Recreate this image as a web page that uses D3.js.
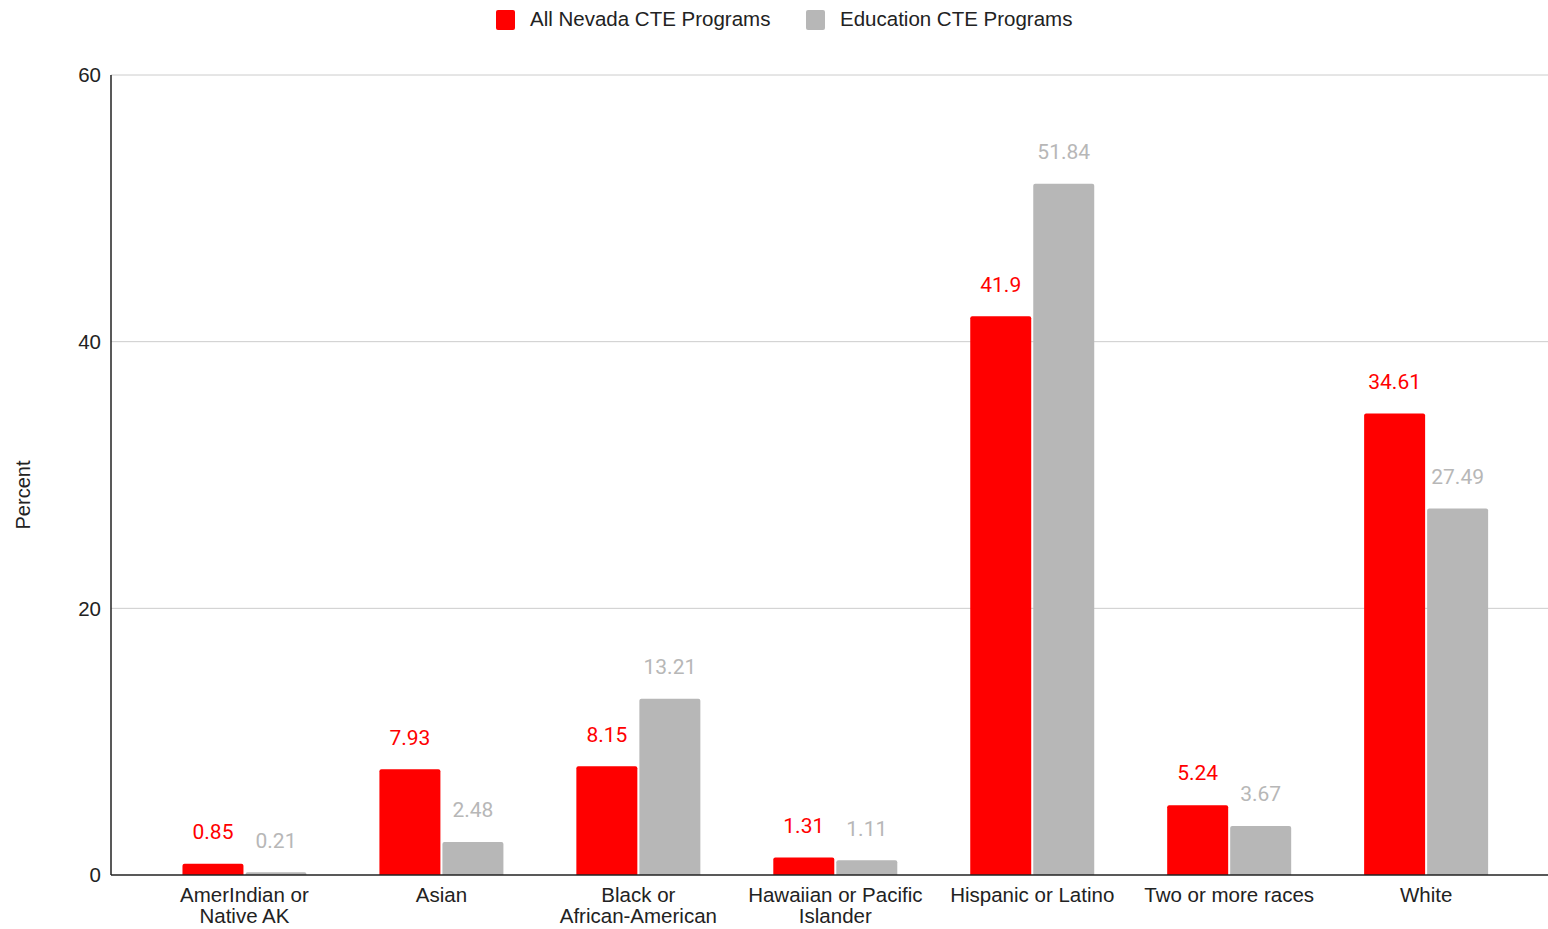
<!DOCTYPE html>
<html><head><meta charset="utf-8">
<script src="https://cdn.jsdelivr.net/npm/d3@7"></script>
<style>body{margin:0;background:#fff}svg{display:block}</style>
</head><body><svg id="c" width="1548" height="929"></svg>
<script>
const categories = [["AmerIndian or","Native AK"],["Asian"],["Black or","African-American"],["Hawaiian or Pacific","Islander"],["Hispanic or Latino"],["Two or more races"],["White"]];
const seriesNames = ["All Nevada CTE Programs","Education CTE Programs"];
const allNevada = [0.85,7.93,8.15,1.31,41.9,5.24,34.61];
const education = [0.21,2.48,13.21,1.11,51.84,3.67,27.49];
const yTicks = [0,20,40,60];
const colors = ["#ff0000","#b7b7b7"];
const labelColors = ["#ff0000","#b7b7b7"];

const svg = d3.select("#c");
const axisFont = "'Liberation Sans', Arial, sans-serif";
const valFont = "Roboto, sans-serif";
const keys = categories.map((c,i)=>i);
const y = d3.scaleLinear().domain([0,60]).range([875,75]);
const x0 = d3.scaleBand().domain(keys).range([146,1524.6]);
const x1 = d3.scaleBand().domain([0,1]).range([x0.step()/2-62, x0.step()/2+62]).paddingInner(0.032);

// gridlines
svg.append("g").selectAll("line").data(yTicks.filter(d=>d>0)).join("line")
  .attr("x1",111).attr("x2",1548).attr("y1",d=>y(d)).attr("y2",d=>y(d))
  .attr("stroke","#cccccc").attr("stroke-width",1);

// y tick labels
svg.append("g").selectAll("text").data(yTicks).join("text")
  .attr("x",101).attr("y",d=>y(d)).attr("dy","0.35em").attr("text-anchor","end")
  .attr("font-family",axisFont).attr("font-size",20.5).attr("fill","#222").text(d=>d);

// bars
const data = [allNevada, education];
const g = svg.append("g");
keys.forEach(i=>{
  data.forEach((s,j)=>{
    const bx = x0(i)+x1(j), bw = x1.bandwidth(), by = y(s[i]), bh = y(0)-y(s[i]);
    const r = Math.min(2, bh);
    g.append("path").attr("fill",colors[j])
      .attr("d",`M${bx},${y(0)}V${by+r}Q${bx},${by} ${bx+r},${by}H${bx+bw-r}Q${bx+bw},${by} ${bx+bw},${by+r}V${y(0)}Z`);
    g.append("text").attr("x",bx+bw/2).attr("y",by-32).attr("dy","0.35em").attr("text-anchor","middle")
      .attr("font-family",valFont).attr("font-size",21).attr("fill",labelColors[j]).text(s[i]);
  });
});

// axes lines
svg.append("line").attr("x1",111).attr("x2",111).attr("y1",75).attr("y2",875).attr("stroke","#222").attr("stroke-width",1.5);
svg.append("line").attr("x1",111).attr("x2",1548).attr("y1",875).attr("y2",875).attr("stroke","#222").attr("stroke-width",1.5);

// x labels
const xl = svg.append("g");
keys.forEach(i=>{
  const t = xl.append("text").attr("x",x0(i)+x0.step()/2).attr("y",902).attr("text-anchor","middle")
    .attr("font-family",axisFont).attr("font-size",20.5).attr("fill","#222");
  categories[i].forEach((line,k)=>{
    t.append("tspan").attr("x",x0(i)+x0.step()/2).attr("dy",k===0?0:21).text(line);
  });
});

// y title
svg.append("text").attr("transform","translate(30,495) rotate(-90)").attr("text-anchor","middle")
  .attr("font-family",axisFont).attr("font-size",20).attr("fill","#222").text("Percent");

// legend
const legX = [496, 806];
seriesNames.forEach((n,j)=>{
  svg.append("rect").attr("x",legX[j]).attr("y",10).attr("width",19).attr("height",20).attr("rx",2).attr("fill",colors[j]);
  svg.append("text").attr("x",legX[j]+34).attr("y",19).attr("dy","0.35em")
    .attr("font-family",axisFont).attr("font-size",20.5).attr("fill","#222").text(n);
});
</script></body></html>
